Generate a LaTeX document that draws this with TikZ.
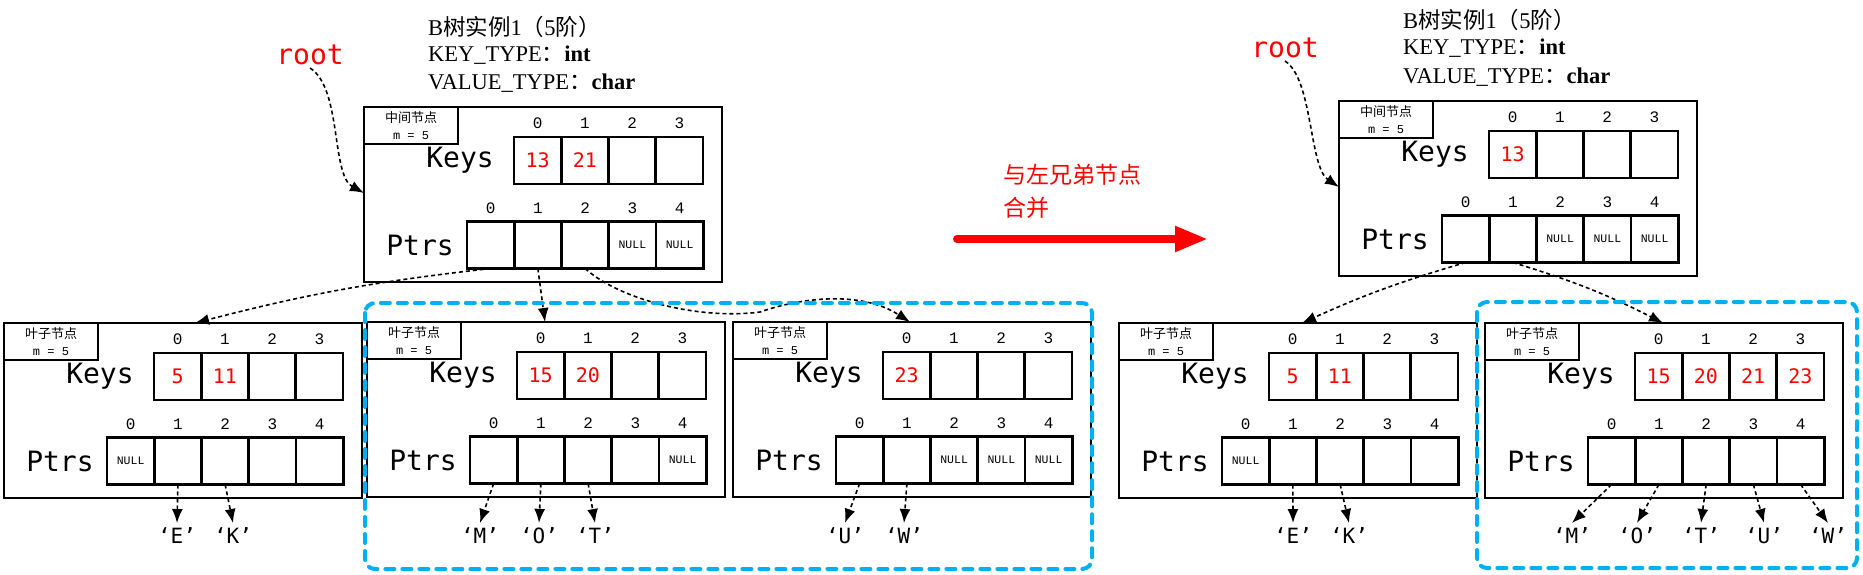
\documentclass[tikz,border=0pt]{standalone}
\usepackage{fontspec}
\usetikzlibrary{arrows.meta,calc}
\newfontfamily\monof{DejaVu Sans Mono}
\newfontfamily\cjkf{Noto Sans CJK SC}
\newfontfamily\serf{Liberation Serif}
\newfontfamily\lmono{Liberation Mono}
\definecolor{myblue}{RGB}{0,176,240}
\newcommand\NUL{{\color{black}\lmono\fontsize{11.5}{12}\selectfont NULL}}
\tikzset{
  outerbox/.style={draw, line width=2pt, minimum width=358pt, minimum height=175pt, inner sep=0pt, outer sep=0pt},
  labbox/.style={draw, line width=1.6pt, minimum width=94pt, minimum height=37pt, inner sep=0pt, outer sep=0pt, align=center, font=\cjkf\fontsize{13}{17}\selectfont},
  bigtxt/.style={font=\monof\fontsize{28}{30}\selectfont, inner sep=0pt},
  idx/.style={font=\lmono\fontsize{16}{16}\selectfont, inner sep=0pt},
  cell/.style={draw, line width=2.8pt, minimum width=47.25pt, minimum height=47pt, inner sep=0pt, outer sep=0pt, font=\monof\fontsize{20}{20}\selectfont, text=red},
  conn/.style={draw, line width=1.6pt, dash pattern=on 4pt off 3pt, -{Latex[length=14pt,width=11pt]}},
  chr/.style={font=\monof\fontsize{21}{21}\selectfont, inner sep=0pt, outer sep=5pt},
  roottxt/.style={font=\monof\fontsize{28}{30}\selectfont, text=red, inner sep=0pt, outer sep=3pt},
  ttl/.style={anchor=west, inner sep=0pt, font=\fontsize{22.5}{26}\selectfont},
  bluebox/.style={draw=myblue, line width=4pt, dash pattern=on 9pt off 8pt, line cap=round, rounded corners=10pt},
  bigarrow/.style={draw=red, line width=8pt, line cap=round, -{Triangle[length=33pt,width=24pt]}},
}
\newcommand\BNode[6]{%
\begin{scope}[shift={(#2,#3)}]
  \node[outerbox, anchor=north west] (#1) at (0,0) {};
  \node[labbox, anchor=north west] (#1-lab) at (0,0) {#4\\{\lmono\fontsize{12}{12}\selectfont m = 5}};
  \node[bigtxt] (#1-kt) at (96,53) {Keys};
  \node[bigtxt] (#1-pt) at (56,138) {Ptrs};
  \foreach \v [count=\i from 0] in {#5} {
    \node[cell] (#1-k\i) at (150+23.625+47.25*\i, 53.5) {\v};
    \node[idx] (#1-ki\i) at (150+23.625+47.25*\i, 16) {\i};
  }
  \foreach \v [count=\i from 0] in {#6} {
    \node[cell] (#1-p\i) at (103+23.625+47.25*\i, 138) {\v};
    \node[idx] (#1-pi\i) at (103+23.625+47.25*\i, 101) {\i};
  }
\end{scope}}
\begin{document}
\begin{tikzpicture}[x=1pt,y=-1pt]
\useasboundingbox (0,0) rectangle (1863,575);

% ---------- left diagram ----------
\node[ttl] (t1a) at (428,27) {{\serf B}{\cjkf 树实例}{\serf 1}{\cjkf （}{\serf 5}{\cjkf 阶）}};
\node[ttl] (t1b) at (428,55) {{\serf KEY\_TYPE}{\cjkf ：}{\serf\bfseries int}};
\node[ttl] (t1c) at (428,83) {{\serf VALUE\_TYPE}{\cjkf ：}{\serf\bfseries char}};
\node[roottxt] (root1) at (310,55) {root};

\BNode{I1}{364}{107}{中间节点}{13,21,{},{}}{{},{},{},\NUL,\NUL}
\BNode{L1}{4}{323}{叶子节点}{5,11,{},{}}{\NUL,{},{},{},{}}
\BNode{L2}{367}{322}{叶子节点}{15,20,{},{}}{{},{},{},{},\NUL}
\BNode{L3}{733}{322}{叶子节点}{23,{},{},{}}{{},{},\NUL,\NUL,\NUL}

\coordinate (R1in) at ($(I1.north west)+(0,86)$);
\draw[conn] (root1.south) .. controls +(32,20) and +(-33,-18) .. (R1in);

\coordinate (L1in) at ($(L1.north west)+(191,0)$);
\coordinate (L2in) at ($(L2.north west)+(178,0)$);
\coordinate (L3in) at ($(L3.north west)+(177,0)$);
\draw[conn] (I1-p0.south) to[bend right=4] (L1in);
\draw[conn] (I1-p1.south) -- (L2in);
\draw[conn] (I1-p2.south) .. controls (620,300) and (700,320) .. (760,312) .. controls (800,298) and (860,290) .. (L3in);

\node[chr] (cE1) at (177,536) {‘E’};
\node[chr] (cK1) at (233,536) {‘K’};
\draw[conn] (L1-p1.south) -- (cE1.north);
\draw[conn] (L1-p2.south) -- (cK1.north);
\node[chr] (cM1) at (480,536) {‘M’};
\node[chr] (cO1) at (539,536) {‘O’};
\node[chr] (cT1) at (595,536) {‘T’};
\draw[conn] (L2-p0.south) -- (cM1.north);
\draw[conn] (L2-p1.south) -- (cO1.north);
\draw[conn] (L2-p2.south) -- (cT1.north);
\node[chr] (cU1) at (845,536) {‘U’};
\node[chr] (cW1) at (904,536) {‘W’};
\draw[conn] (L3-p0.south) -- (cU1.north);
\draw[conn] (L3-p1.south) -- (cW1.north);

\draw[bluebox] (365,303) rectangle (1092,569);

% ---------- middle arrow ----------
\node[anchor=west, inner sep=0pt, align=left, text=red, font=\cjkf\fontsize{23}{33}\selectfont] (mtxt) at (1003,191) {与左兄弟节点\\合并};
\coordinate (ra) at (957,239);
\coordinate (rb) at (1208,239);
\draw[bigarrow] (ra) -- (rb);

% ---------- right diagram ----------
\node[ttl] (t2a) at (1403,20) {{\serf B}{\cjkf 树实例}{\serf 1}{\cjkf （}{\serf 5}{\cjkf 阶）}};
\node[ttl] (t2b) at (1403,48) {{\serf KEY\_TYPE}{\cjkf ：}{\serf\bfseries int}};
\node[ttl] (t2c) at (1403,77) {{\serf VALUE\_TYPE}{\cjkf ：}{\serf\bfseries char}};
\node[roottxt] (root2) at (1285,48) {root};

\BNode{I2}{1339}{101}{中间节点}{13,{},{},{}}{{},{},\NUL,\NUL,\NUL}
\BNode{L4}{1119}{323}{叶子节点}{5,11,{},{}}{\NUL,{},{},{},{}}
\BNode{L5}{1485}{323}{叶子节点}{15,20,21,23}{{},{},{},{},{}}

\coordinate (R2in) at ($(I2.north west)+(0,86)$);
\draw[conn] (root2.south) .. controls +(28,18) and +(-30,-20) .. (R2in);

\coordinate (L4in) at ($(L4.north west)+(183,0)$);
\coordinate (L5in) at ($(L5.north west)+(178,0)$);
\draw[conn] (I2-p0.south) to[bend right=4] (L4in);
\draw[conn] (I2-p1.south) to[bend left=5] (L5in);

\node[chr] (cE2) at (1293,536) {‘E’};
\node[chr] (cK2) at (1349,536) {‘K’};
\draw[conn] (L4-p1.south) -- (cE2.north);
\draw[conn] (L4-p2.south) -- (cK2.north);
\node[chr] (cM2) at (1572,536) {‘M’};
\node[chr] (cO2) at (1637,536) {‘O’};
\node[chr] (cT2) at (1701,536) {‘T’};
\node[chr] (cU2) at (1764,536) {‘U’};
\node[chr] (cW2) at (1828,536) {‘W’};
\draw[conn] (L5-p0.south) -- (cM2.north);
\draw[conn] (L5-p1.south) -- (cO2.north);
\draw[conn] (L5-p2.south) -- (cT2.north);
\draw[conn] (L5-p3.south) -- (cU2.north);
\draw[conn] (L5-p4.south) -- (cW2.north);

\draw[bluebox] (1477,302) rectangle (1857,568);
\end{tikzpicture}
\end{document}
